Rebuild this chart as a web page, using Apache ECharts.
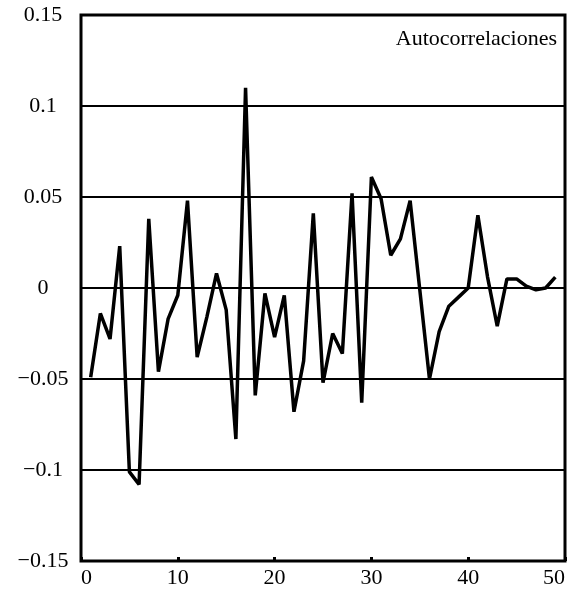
<!DOCTYPE html>
<html>
<head>
    <meta charset="utf-8">
    <title>Autocorrelaciones</title>
    <script src="https://cdn.jsdelivr.net/npm/echarts@6/dist/echarts.min.js"></script>
    <style>
        body { margin: 0; background: #fff; }
    </style>
</head>
<body>
    <div id="main" style="width: 573px;height:590px;"></div>
    <script type="text/javascript">
        // retardos y autocorrelaciones
        var lags = [1, 2, 3, 4, 5, 6, 7, 8, 9, 10,
                    11, 12, 13, 14, 15, 16, 17, 18, 19, 20,
                    21, 22, 23, 24, 25, 26, 27, 28, 29, 30,
                    31, 32, 33, 34, 35, 36, 37, 38, 39, 40,
                    41, 42, 43, 44, 45, 46, 47, 48, 49];
        var acf = [-0.049, -0.014, -0.028, 0.023, -0.101, -0.108, 0.038, -0.046, -0.017, -0.004,
                   0.048, -0.038, -0.016, 0.008, -0.012, -0.083, 0.110, -0.059, -0.003, -0.027,
                   -0.004, -0.068, -0.040, 0.041, -0.052, -0.025, -0.036, 0.052, -0.063, 0.061,
                   0.049, 0.018, 0.027, 0.048, -0.001, -0.050, -0.024, -0.010, -0.005, 0.000,
                   0.040, 0.006, -0.021, 0.005, 0.005, 0.001, -0.001, 0.000, 0.006];
        var title = 'Autocorrelaciones';

        var points = [];
        for (var i = 0; i < lags.length; i++) {
            points.push([lags[i], acf[i]]);
        }

        var myChart = echarts.init(document.getElementById('main'));
        var font = 'Liberation Serif';

        var option = {
            backgroundColor: '#fff',
            animation: false,
            title: {
                text: title,
                right: 16,
                top: 28,
                padding: 0,
                textStyle: { fontFamily: font, fontSize: 22, fontWeight: 'normal', color: '#000' }
            },
            grid: {
                left: 81, right: 8, top: 15, bottom: 29,
                outerBoundsMode: 'none',
                containLabel: false,
                show: true,
                borderColor: '#000',
                borderWidth: 3
            },
            xAxis: {
                type: 'value',
                min: 0, max: 50, interval: 10,
                axisLine: { show: false, onZero: false },
                axisTick: { show: true, inside: true, length: 4, lineStyle: { color: '#000', width: 3 } },
                splitLine: { show: false },
                axisLabel: {
                    color: '#000', fontFamily: font, fontSize: 22, margin: 6,
                    alignMinLabel: 'left', alignMaxLabel: 'right'
                }
            },
            yAxis: {
                type: 'value',
                min: -0.15, max: 0.15, interval: 0.05,
                axisLine: { show: false },
                axisTick: { show: false },
                splitLine: { show: true, lineStyle: { color: '#000', width: 2 } },
                axisLabel: {
                    color: '#000', fontFamily: font, fontSize: 22,
                    align: 'center', margin: 38,
                    formatter: function (v) {
                        var r = parseFloat(v.toFixed(2));
                        return r < 0 ? '\u2212' + Math.abs(r) : String(r);
                    }
                }
            },
            series: [{
                type: 'line',
                data: points,
                symbol: 'none',
                lineStyle: { color: '#000', width: 3.5 }
            }]
        };

        myChart.setOption(option);
    </script>
</body>
</html>
